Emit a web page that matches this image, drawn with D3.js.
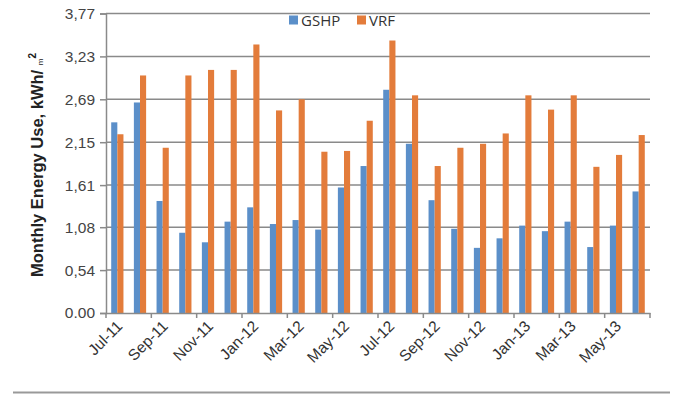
<!DOCTYPE html>
<html>
<head>
<meta charset="utf-8">
<script src="https://cdn.jsdelivr.net/npm/d3@7"></script>
<style>
  body { margin: 0; background: #fff; }
  svg { display: block; font-family: "Open Sans", "Liberation Sans", Arial, sans-serif; }
</style>
</head>
<body>
<svg id="chart" width="700" height="394"></svg>
<script>
var months = ["Jul-11","Aug-11","Sep-11","Oct-11","Nov-11","Dec-11",
              "Jan-12","Feb-12","Mar-12","Apr-12","May-12","Jun-12",
              "Jul-12","Aug-12","Sep-12","Oct-12","Nov-12","Dec-12",
              "Jan-13","Feb-13","Mar-13","Apr-13","May-13","Jun-13"];
var gshp = [2.40,2.65,1.41,1.01,0.89,1.15,1.33,1.12,1.17,1.05,1.58,1.85,
            2.81,2.13,1.42,1.06,0.82,0.94,1.10,1.03,1.15,0.83,1.10,1.53];
var vrf  = [2.25,2.99,2.08,2.99,3.06,3.06,3.38,2.55,2.69,2.03,2.04,2.42,
            3.43,2.74,1.85,2.08,2.13,2.26,2.74,2.56,2.74,1.84,1.99,2.24];
var seriesNames = ["GSHP","VRF"];
var colors = ["#5b8fc9","#e37c3b"];
var yTicks = [0,0.54,1.08,1.61,2.15,2.69,3.23,3.77];
var yTickLabels = ["0.00","0,54","1,08","1,61","2,15","2,69","3,23","3,77"];

var margin = {left:106, right:50, top:13.5, bottom:81};
var svg = d3.select('#chart');
var W = 700, H = 394;
var innerW = W - margin.left - margin.right;
var innerH = H - margin.top - margin.bottom;
var g = svg.append('g').attr('transform','translate('+margin.left+','+margin.top+')');

var x = d3.scaleBand().domain(months).range([0,innerW]).paddingInner(0.46).paddingOuter(0.23);
var xs = d3.scaleBand().domain(seriesNames).range([0,x.bandwidth()]);
var y = d3.scaleLinear().domain([0,3.77]).range([innerH,0]);

// gridlines
g.selectAll('.grid').data(yTicks.slice(1)).enter()
  .append('line')
  .attr('x1',0).attr('x2',innerW)
  .attr('y1',function(d){return y(d)}).attr('y2',function(d){return y(d)})
  .attr('stroke','#8a8a8a').attr('stroke-width',1.5);

// bars
var rows = months.map(function(m,i){return {m:m, vals:[gshp[i],vrf[i]]}});
var grp = g.selectAll('.grp').data(rows).enter()
  .append('g')
  .attr('transform',function(d){return 'translate('+x(d.m)+',0)'});
grp.selectAll('rect').data(function(d){return d.vals.map(function(v,j){return {k:seriesNames[j],v:v,j:j}})})
  .enter().append('rect')
  .attr('x',function(d){return xs(d.k)})
  .attr('width',xs.bandwidth())
  .attr('y',function(d){return y(d.v)})
  .attr('height',function(d){return innerH - y(d.v)})
  .style('fill',function(d){return colors[d.j]});

// y axis
var yAxis = d3.axisLeft(y).tickValues(yTicks).tickSize(6)
  .tickFormat(function(d,i){return yTickLabels[i]});
var ya = g.append('g').call(yAxis);
ya.select('.domain').attr('stroke','#8a8a8a').attr('stroke-width',1.5);
ya.selectAll('.tick line').attr('stroke','#8a8a8a').attr('stroke-width',1.5);
ya.selectAll('.tick text').attr('x',-11).style('font-size','15.5px').style('fill','#444')
  .style('font-family','"Liberation Sans", Arial, sans-serif');

// x axis
var xa = g.append('g').attr('transform','translate(0,'+innerH+')')
  .call(d3.axisBottom(x).tickSize(0).tickFormat(function(d,i){return i%2===0 ? d : ''}));
xa.select('.domain').attr('stroke','#8a8a8a').attr('stroke-width',1.5);
xa.selectAll('.tick text')
  .attr('text-anchor','end')
  .attr('dx',0).attr('dy',0)
  .attr('transform','translate(4,12) rotate(-45)')
  .style('font-size','15.5px').style('fill','#333');
// boundary ticks every two months
var step = x.step();
var bounds = d3.range(0,months.length+1,2);
xa.selectAll('.bt').data(bounds).enter().append('line')
  .attr('x1',function(d){return x(months[0]) - x.paddingOuter()*step + d*step})
  .attr('x2',function(d){return x(months[0]) - x.paddingOuter()*step + d*step})
  .attr('y1',0).attr('y2',5)
  .attr('stroke','#8a8a8a').attr('stroke-width',1.5);

// y label
svg.append('text')
  .attr('transform','translate(43,165) rotate(-90)')
  .attr('text-anchor','middle')
  .style('font-weight','bold').style('font-size','16.5px').style('fill','#222')
  .style('font-family','"Liberation Sans", Arial, sans-serif')
  .text('Monthly Energy Use, kWh/ ')
  .append('tspan').style('font-size','8px').style('font-weight','normal').text('m')
  .append('tspan').attr('dy',-7).style('font-size','10px').style('font-weight','bold').text('2');

// legend
var legend = svg.append('g').attr('transform','translate(289,15)');
var li = legend.selectAll('g').data(seriesNames).enter().append('g')
  .attr('transform',function(d,i){return 'translate('+(i*68)+',0)'});
li.append('rect').attr('width',9).attr('height',9).attr('y',0.5)
  .style('fill',function(d,i){return colors[i]});
li.append('text').attr('x',12).attr('y',10.5)
  .style('font-size','15px').style('fill','#333')
  .text(function(d){return d});

// bottom border
svg.append('line').attr('x1',13).attr('x2',670).attr('y1',392.5).attr('y2',392.5)
  .attr('stroke','#999').attr('stroke-width',2);
</script>
</body>
</html>
